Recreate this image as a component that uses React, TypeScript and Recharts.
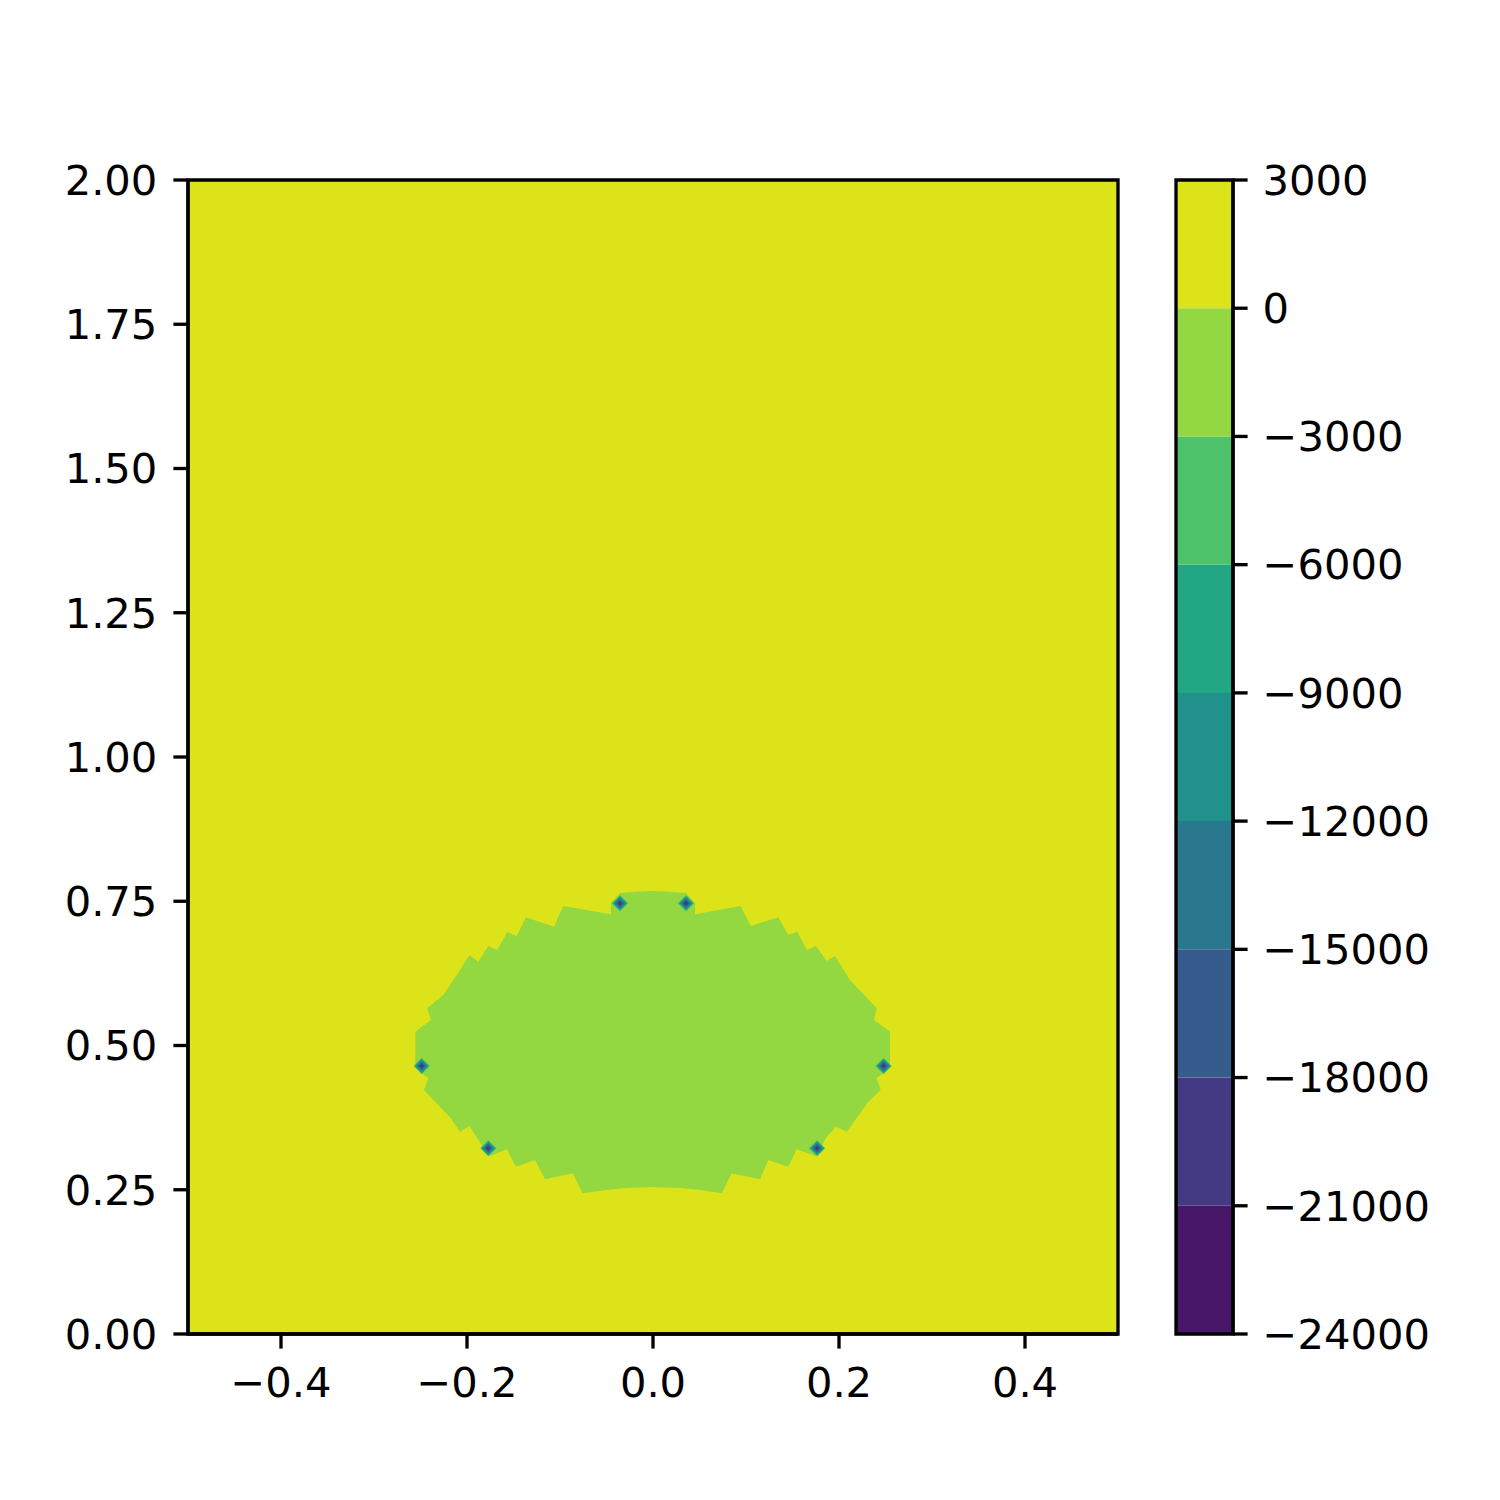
import React from 'react';
import { ComposedChart, Area, Scatter, XAxis, YAxis, ReferenceArea } from 'recharts';

const xTicks = [-0.4, -0.2, 0.0, 0.2, 0.4];
const yTicks = [0, 0.25, 0.5, 0.75, 1.0, 1.25, 1.5, 1.75, 2.0];
const levels = [-24000, -21000, -18000, -15000, -12000, -9000, -6000, -3000, 0, 3000];
const levelColors = ['#481769', '#443a83', '#365c8d', '#2a788e', '#21918c', '#22a785', '#4ec36b', '#93d741', '#dce319'];

// top contour layer (0 .. 3000) covers the whole domain
const outerLayer = [
  { x: -0.5, y: 2.0 },
  { x: 0.5, y: 2.0 },
];

// boundary of the (-3000 .. 0) region, traced clockwise
const innerLayer = [
  { x: -0.2555, y: 0.4749 }, { x: -0.2555, y: 0.5239 }, { x: -0.2390, y: 0.5442 }, { x: -0.2427, y: 0.5645 },
  { x: -0.2255, y: 0.5875 }, { x: -0.2075, y: 0.6308 }, { x: -0.1975, y: 0.6568 }, { x: -0.1878, y: 0.6452 },
  { x: -0.1771, y: 0.6724 }, { x: -0.1674, y: 0.6655 }, { x: -0.1567, y: 0.6962 }, { x: -0.1466, y: 0.6898 },
  { x: -0.1366, y: 0.7222 }, { x: -0.1065, y: 0.7059 }, { x: -0.0965, y: 0.7418 }, { x: -0.0452, y: 0.7274 },
  { x: -0.0452, y: 0.7470 }, { x: -0.0355, y: 0.7643 }, { x: -0.0140, y: 0.7669 }, { x: 0.0, y: 0.7678 },
  { x: 0.0140, y: 0.7669 }, { x: 0.0355, y: 0.7643 }, { x: 0.0452, y: 0.7470 }, { x: 0.0452, y: 0.7274 },
  { x: 0.0943, y: 0.7418 }, { x: 0.1051, y: 0.7071 }, { x: 0.1347, y: 0.7222 }, { x: 0.1455, y: 0.6915 },
  { x: 0.1552, y: 0.6972 }, { x: 0.1653, y: 0.6655 }, { x: 0.1753, y: 0.6724 }, { x: 0.1868, y: 0.6464 },
  { x: 0.1957, y: 0.6551 }, { x: 0.2118, y: 0.6135 }, { x: 0.2405, y: 0.5645 }, { x: 0.2376, y: 0.5442 },
  { x: 0.2548, y: 0.5239 }, { x: 0.2548, y: 0.4749 }, { x: 0.2548, y: 0.4610 }, { x: 0.2405, y: 0.4432 },
  { x: 0.2448, y: 0.4229 }, { x: 0.2315, y: 0.4026 }, { x: 0.2083, y: 0.3506 }, { x: 0.1968, y: 0.3593 },
  { x: 0.1868, y: 0.3419 }, { x: 0.1753, y: 0.3085 }, { x: 0.1545, y: 0.3201 }, { x: 0.1455, y: 0.2899 },
  { x: 0.1240, y: 0.3016 }, { x: 0.1151, y: 0.2681 }, { x: 0.0846, y: 0.2785 }, { x: 0.0739, y: 0.2438 },
  { x: 0.0505, y: 0.2496 }, { x: 0.0290, y: 0.2530 }, { x: 0.0, y: 0.2548 }, { x: -0.0290, y: 0.2530 },
  { x: -0.0505, y: 0.2496 }, { x: -0.0756, y: 0.2438 }, { x: -0.0863, y: 0.2785 }, { x: -0.1161, y: 0.2681 },
  { x: -0.1269, y: 0.3016 }, { x: -0.1473, y: 0.2899 }, { x: -0.1573, y: 0.3201 }, { x: -0.1753, y: 0.3085 },
  { x: -0.1842, y: 0.3276 }, { x: -0.1975, y: 0.3605 }, { x: -0.2075, y: 0.3506 }, { x: -0.2183, y: 0.3756 },
  { x: -0.2344, y: 0.4026 }, { x: -0.2462, y: 0.4229 }, { x: -0.2416, y: 0.4432 }, { x: -0.2555, y: 0.4610 },
  { x: -0.2555, y: 0.4749 },
];

// small deep minima
const minima = [
  { x: -0.0355, y: 0.7464 },
  { x: 0.0355, y: 0.7464 },
  { x: -0.2487, y: 0.4645 },
  { x: 0.2480, y: 0.4645 },
  { x: -0.1771, y: 0.3218 },
  { x: 0.1765, y: 0.3218 },
];

const FONT = 'DejaVu Sans';
const FS = 41.67;
const LW = 3.33;
const TICK = 14.6;

const fmtMinus = (v: number, d: number) => {
  const s = v.toFixed(d);
  return s.startsWith('-') ? '\u2212' + s.slice(1) : s;
};

const Diamond = (props: any) => {
  const { cx, cy } = props;
  if (cx == null || cy == null) return null;
  const layers: [number, string][] = [
    [8, '#2fb47c'],
    [6.5, '#21918c'],
    [4.8, '#2c728e'],
    [3.2, '#3b528b'],
    [1.6, '#46307e'],
  ];
  return (
    <g>
      {layers.map(([r, c], i) => (
        <polygon
          key={i}
          points={`${cx},${cy - r} ${cx + r},${cy} ${cx},${cy + r} ${cx - r},${cy}`}
          fill={c}
        />
      ))}
    </g>
  );
};

const tickStyle = { fill: '#000', fontSize: FS, fontFamily: FONT };
const lineStyle = { stroke: '#000', strokeWidth: LW };

export default function App() {
  return (
    <div style={{ position: 'absolute', left: 0, top: 0, width: 1500, height: 1500, background: '#fff' }}>
      <div style={{ position: 'absolute', left: 0, top: 0 }}>
        <ComposedChart width={1500} height={1500} margin={{ top: 180, right: 382, bottom: 66, left: 88 }}>
          <XAxis
            dataKey="x"
            type="number"
            domain={[-0.5, 0.5]}
            ticks={xTicks}
            allowDataOverflow
            tickFormatter={(v: number) => fmtMinus(v, 1)}
            tick={tickStyle}
            tickLine={lineStyle}
            axisLine={lineStyle}
            tickSize={TICK}
            tickMargin={19}
            height={100}
            interval={0}
          />
          <YAxis
            dataKey="y"
            type="number"
            domain={[0, 2]}
            ticks={yTicks}
            allowDataOverflow
            tickFormatter={(v: number) => v.toFixed(2)}
            tick={tickStyle}
            tickLine={lineStyle}
            axisLine={lineStyle}
            tickSize={TICK}
            tickMargin={16}
            width={100}
            interval={0}
          />
          <Area
            data={outerLayer}
            dataKey="y"
            type="linear"
            stroke="none"
            fill={levelColors[8]}
            fillOpacity={1}
            dot={false}
            activeDot={false}
            isAnimationActive={false}
          />
          <Area
            data={innerLayer}
            dataKey="y"
            type="linear"
            stroke="none"
            fill={levelColors[7]}
            fillOpacity={1}
            dot={false}
            activeDot={false}
            isAnimationActive={false}
          />
          <Scatter data={minima} dataKey="y" shape={<Diamond />} isAnimationActive={false} />
          <ReferenceArea
            x1={-0.5}
            x2={0.5}
            y1={0}
            y2={2}
            fill="none"
            stroke="#000"
            strokeWidth={LW}
            ifOverflow="visible"
          />
        </ComposedChart>
      </div>
      <div style={{ position: 'absolute', left: 0, top: 0 }}>
        <ComposedChart width={1500} height={1500} margin={{ top: 180, right: 67, bottom: 166, left: 1176 }}>
          <XAxis type="number" dataKey="x" domain={[0, 1]} hide />
          <YAxis
            orientation="right"
            type="number"
            domain={[-24000, 3000]}
            ticks={levels}
            allowDataOverflow
            tickFormatter={(v: number) => fmtMinus(v, 0)}
            tick={{ ...tickStyle, textAnchor: 'start' }}
            tickLine={lineStyle}
            axisLine={lineStyle}
            tickSize={TICK}
            tickMargin={15}
            width={200}
            interval={0}
          />
          {levelColors.map((c, i) => (
            <ReferenceArea
              key={i}
              x1={0}
              x2={1}
              y1={levels[i]}
              y2={levels[i + 1]}
              fill={c}
              fillOpacity={1}
              stroke="none"
              ifOverflow="extendDomain"
            />
          ))}
          <ReferenceArea
            x1={0}
            x2={1}
            y1={levels[0]}
            y2={levels[levels.length - 1]}
            fill="none"
            stroke="#000"
            strokeWidth={LW}
            ifOverflow="extendDomain"
          />
        </ComposedChart>
      </div>
    </div>
  );
}
